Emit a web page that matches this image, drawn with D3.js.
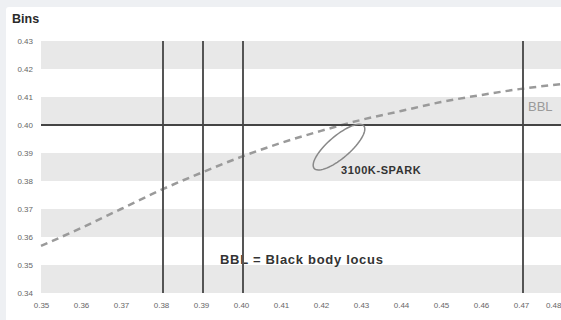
<!DOCTYPE html>
<html>
<head>
<meta charset="utf-8">
<script src="https://cdn.jsdelivr.net/npm/d3@7"></script>
<style>
body { margin: 0; background: #eef0f3; }
svg { display: block; }
text { font-family: "Liberation Sans", "DejaVu Sans", sans-serif; }
</style>
</head>
<body>
<script>
// chromaticity x / y ticks
var xTicks = [0.35, 0.36, 0.37, 0.38, 0.39, 0.40, 0.41, 0.42, 0.43, 0.44, 0.45, 0.46, 0.47, 0.48];
var yTicks = [0.34, 0.35, 0.36, 0.37, 0.38, 0.39, 0.40, 0.41, 0.42, 0.43];

// black body locus
var bblX = [0.350, 0.360, 0.370, 0.380, 0.390, 0.400, 0.410, 0.420, 0.430, 0.440, 0.450, 0.460, 0.470, 0.480];
var bblY = [0.3568, 0.3632, 0.3700, 0.3768, 0.3829, 0.3886, 0.3936, 0.3979, 0.4018, 0.4050, 0.4082, 0.4107, 0.4129, 0.4146];

// bin boundaries
var binX = [0.3805, 0.3905, 0.4005, 0.4705];
var binY = [0.40];

// 3100K spark ellipse (centre + two half axes, data units)
var spark = {cx: 0.4245, cy: 0.3921, ax: 0.0062, ay: 0.0076, bx: 0.0018, by: -0.0030};

var width = 561, height = 320;

var svg = d3.select('body').append('svg')
	.attr('width', width)
	.attr('height', height);

// card
svg.append('rect')
	.attr('x', 6).attr('y', 7)
	.attr('width', width).attr('height', height)
	.attr('rx', 3)
	.attr('fill', '#fff');

var x = d3.scaleLinear().domain([0.35, 0.48]).range([41, 561]);
var y = d3.scaleLinear().domain([0.34, 0.43]).range([293, 41]);

svg.append('text')
	.attr('x', 12).attr('y', 23)
	.attr('font-size', 12.5)
	.attr('font-weight', 'bold')
	.attr('fill', '#2a2a2a')
	.text('Bins');

// alternating bands
var bands = [];
for(var i=0; i<yTicks.length-1; i++){
	if(i % 2 === 0){ bands.push([yTicks[i], yTicks[i+1]]); }
}
svg.selectAll('rect.band')
	.data(bands)
	.enter()
	.append('rect')
	.attr('class', 'band')
	.attr('x', x(0.35))
	.attr('width', x(0.48) - x(0.35))
	.attr('y', function(d){ return y(d[1]); })
	.attr('height', function(d){ return y(d[0]) - y(d[1]); })
	.attr('fill', '#e8e8e8');

// axes
var yAxis = d3.axisLeft(y).tickValues(yTicks).tickSize(0).tickPadding(8).tickFormat(d3.format('.2f'));
var gy = svg.append('g').attr('transform', 'translate(' + x(0.35) + ',0)').call(yAxis);
gy.select('.domain').remove();
gy.selectAll('text').attr('font-size', 8).attr('fill', '#666').attr('font-family', '"Liberation Sans", sans-serif');

var xAxis = d3.axisBottom(x).tickValues(xTicks).tickSize(0).tickPadding(9).tickFormat(d3.format('.2f'));
var gx = svg.append('g').attr('transform', 'translate(0,' + y(0.34) + ')').call(xAxis);
gx.select('.domain').remove();
gx.selectAll('text').attr('font-size', 8).attr('fill', '#666').attr('font-family', '"Liberation Sans", sans-serif');
// last label would run off the edge
gx.selectAll('text').filter(function(d){ return d === 0.48; }).attr('text-anchor', 'end');

// legend note (sits under the bin lines)
svg.append('text')
	.attr('x', 220).attr('y', 264)
	.attr('font-size', 13)
	.attr('font-weight', 'bold')
	.attr('fill', '#333')
	.attr('letter-spacing', 0.7)
	.text('BBL = Black body locus');

// BBL
var bbl = bblX.map(function(v, i){ return [v, bblY[i]]; });
var line = d3.line()
	.x(function(d){ return x(d[0]); })
	.y(function(d){ return y(d[1]); })
	.curve(d3.curveMonotoneX);
svg.append('path')
	.datum(bbl)
	.attr('d', line)
	.attr('fill', 'none')
	.attr('stroke', '#9a9a9a')
	.attr('stroke-width', 2.5)
	.attr('stroke-dasharray', '7,5');

// bin lines
svg.selectAll('line.vbin')
	.data(binX)
	.enter()
	.append('line')
	.attr('class', 'vbin')
	.attr('x1', function(d){ return x(d); })
	.attr('x2', function(d){ return x(d); })
	.attr('y1', y(0.43))
	.attr('y2', y(0.34))
	.attr('stroke', '#555')
	.attr('stroke-width', 2);

svg.selectAll('line.hbin')
	.data(binY)
	.enter()
	.append('line')
	.attr('class', 'hbin')
	.attr('x1', x(0.35))
	.attr('x2', x(0.48))
	.attr('y1', function(d){ return y(d); })
	.attr('y2', function(d){ return y(d); })
	.attr('stroke', '#444')
	.attr('stroke-width', 2);

// spark ellipse
var ell = d3.range(0, 73).map(function(k){
	var t = k / 72 * 2 * Math.PI;
	return [spark.cx + Math.cos(t)*spark.ax + Math.sin(t)*spark.bx,
			spark.cy + Math.cos(t)*spark.ay + Math.sin(t)*spark.by];
});
svg.append('path')
	.datum(ell)
	.attr('d', d3.line().x(function(d){ return x(d[0]); }).y(function(d){ return y(d[1]); }))
	.attr('fill', 'none')
	.attr('stroke', '#888')
	.attr('stroke-width', 1.5);

svg.append('text')
	.attr('x', 341).attr('y', 174)
	.attr('font-size', 11)
	.attr('font-weight', 'bold')
	.attr('fill', '#333')
	.attr('letter-spacing', 0.6)
	.text('3100K-SPARK');

svg.append('text')
	.attr('x', 528).attr('y', 111)
	.attr('font-size', 13)
	.attr('fill', '#9a9a9a')
	.text('BBL');
</script>
</body>
</html>
